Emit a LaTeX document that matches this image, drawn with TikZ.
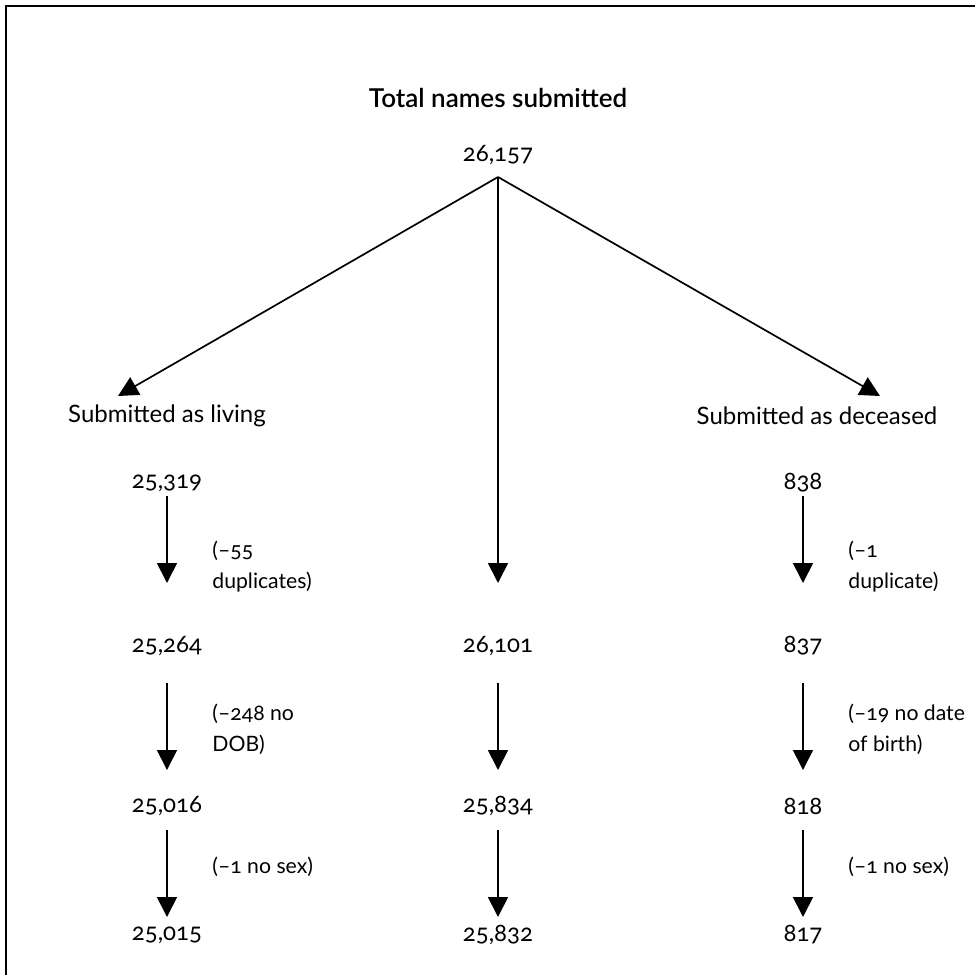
\documentclass[tikz,border=0pt]{standalone}
\usepackage{fontspec}
\setmainfont{Lato}[Numbers=OldStyle]
\newfontfamily\titlefont{Lato Semibold}
\usetikzlibrary{arrows.meta}

\begin{document}
\begin{tikzpicture}[
        x=0.5pt, y=-0.5pt,
        txt/.style={inner sep=0pt, font=\fontsize{12}{15.5}\selectfont},
        note/.style={txt, anchor=west, align=left, font=\fontsize{10.6}{15.5}\selectfont},
        arr/.style={line width=0.85pt, -{Triangle[width=10pt,length=10pt]}},
        frame/.style={line width=1pt}]
        % 画布
        \useasboundingbox (0,0) rectangle (975,975);
        % 边框
        \draw[frame] (5.5,975) -- (5.5,5.5) -- (975,5.5);
        % 标题与总数
        \node[txt, font=\titlefont\fontsize{13}{15}\selectfont] (title) at (498,98) {Total names submitted};
        \node[txt] (total) at (498,155) {26,157};
        \coordinate (apex) at ([yshift=-11pt]total.center);
        % 两个分支
        \node[txt] (living) at (167,416) {Submitted as living};
        \node[txt] (deceased) at (817,416) {Submitted as deceased};
        \coordinate (tipL) at (118,396);
        \coordinate (tipR) at (880,396);
        % 左列
        \node[txt] (L1) at (167,483) {25,319};
        \node[txt] (L2) at (167,646) {25,264};
        \node[txt] (L3) at (167,806) {25,016};
        \node[txt] (L4) at (167,935) {25,015};
        % 中列
        \node[txt] (M2) at (498,646) {26,101};
        \node[txt] (M3) at (498,806) {25,834};
        \node[txt] (M4) at (498,935) {25,832};
        % 右列
        \node[txt] (R1) at (803,483) {838};
        \node[txt] (R2) at (803,646) {837};
        \node[txt] (R3) at (803,806) {818};
        \node[txt] (R4) at (803,935) {817};
        % 说明文字
        \node[note] (nL1) at (212,566.5) {(–55\\duplicates)};
        \node[note] (nL2) at (212,729) {(–248 no\\DOB)};
        \node[note] (nL3) at (212,867) {(–1 no sex)};
        \node[note] (nR1) at (848,566.5) {(–1\\duplicate)};
        \node[note] (nR2) at (848,729) {(–19 no date\\of birth)};
        \node[note] (nR3) at (848,867) {(–1 no sex)};
        % 绘制箭头
        \draw[arr] (apex) -- (tipL);
        \draw[arr] (apex) -- (tipR);
        \draw[arr, shorten >=31.5pt] (apex) -- (M2.center);
        \draw[arr, shorten <=6.5pt, shorten >=31.5pt] (L1.center) -- (L2.center);
        \draw[arr, shorten <=18.5pt, shorten >=18pt] (L2.center) -- (L3.center);
        \draw[arr, shorten <=12pt, shorten >=9pt] (L3.center) -- (L4.center);
        \draw[arr, shorten <=18.5pt, shorten >=18pt] (M2.center) -- (M3.center);
        \draw[arr, shorten <=12pt, shorten >=9pt] (M3.center) -- (M4.center);
        \draw[arr, shorten <=6.5pt, shorten >=31.5pt] (R1.center) -- (R2.center);
        \draw[arr, shorten <=18.5pt, shorten >=18pt] (R2.center) -- (R3.center);
        \draw[arr, shorten <=12pt, shorten >=9pt] (R3.center) -- (R4.center);
      \end{tikzpicture}
\end{document}
